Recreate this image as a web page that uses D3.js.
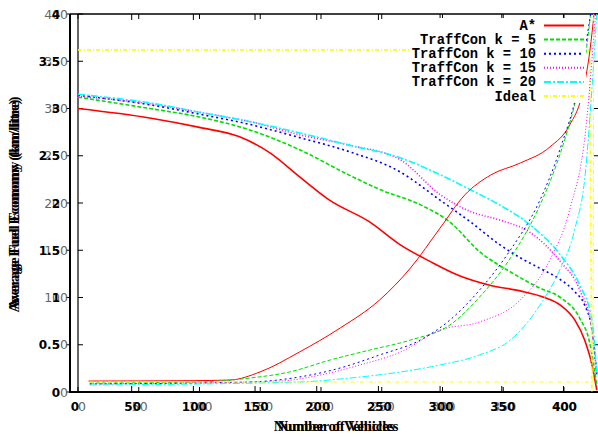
<!DOCTYPE html>
<html><head><meta charset="utf-8">
<script src="https://cdn.jsdelivr.net/npm/d3@7/dist/d3.min.js"></script>
<style>body{margin:0;background:#fff}svg{display:block}</style></head>
<body>
<script>
// ---------- data ----------
const xTicks = [0, 50, 100, 150, 200, 250, 300, 350, 400];
const yTicksEcon = [0, 50, 100, 150, 200, 250, 300, 350, 400];
const yTicksTime = [0, 0.5, 1, 1.5, 2, 2.5, 3, 3.5, 4];
const seriesNames = ["A*", "TraffCon k = 5", "TraffCon k = 10", "TraffCon k = 15", "TraffCon k = 20", "Ideal"];
const seriesColors = ["#ff0000", "#00e000", "#0000ff", "#ff00ff", "#00ffff", "#ffff00"];
const seriesDashes = [null, "4,2", "2,3", "1,2", "7,2,2,2", "4,2,1,2"];

// decreasing curves (grey 0-400 axis)
const econAStarVeh = [0, 59, 100, 133, 158, 183, 207, 240, 265, 290, 314, 339, 364, 384, 397, 409, 417, 423, 427];
const econAStarVal = [300, 290, 280, 270, 253, 227, 203, 180, 156, 138, 123, 113, 107, 100, 92, 76, 55, 29, 2];
const econK5Veh = [0, 59, 100, 142, 183, 224, 249, 282, 306, 331, 356, 380, 397, 413, 421, 427];
const econK5Val = [312, 300, 291, 277, 256, 229, 214, 198, 180, 148, 127, 110, 100, 78, 53, 7];
const econK10Veh = [0, 59, 100, 142, 183, 224, 265, 298, 323, 347, 364, 380, 397, 409, 417, 423, 427];
const econK10Val = [314, 304, 294, 283, 269, 254, 233, 203, 180, 156, 142, 131, 119, 106, 92, 66, 18];
const econK15Veh = [0, 59, 100, 142, 183, 224, 265, 298, 323, 347, 372, 397, 413, 423, 427];
const econK15Val = [313, 305, 296, 286, 272, 261, 246, 209, 191, 182, 169, 138, 108, 66, 18];
const econK20Veh = [0, 59, 100, 142, 183, 224, 265, 298, 323, 347, 372, 397, 413, 423, 427];
const econK20Val = [315, 306, 296, 286, 274, 261, 248, 230, 214, 198, 177, 145, 113, 76, 18];
const econIdealVeh = [0, 421, 423];
const econIdealVal = [362, 362, 0];

// increasing curves (bold 0-4 axis)
const timeAStarVeh = [15, 100, 130, 154, 186, 219, 251, 276, 300, 320, 341, 365, 389, 405, 415, 421.5, 424.8];
const timeAStarVal = [0.116, 0.12, 0.127, 0.212, 0.423, 0.677, 0.974, 1.312, 1.735, 2.085, 2.296, 2.423, 2.593, 2.825, 3.143, 3.619, 4.0];
const timeK5Veh = [16, 105, 146, 178, 211, 243, 276, 308, 332, 357, 381, 397, 409, 418, 422];
const timeK5Val = [0.095, 0.106, 0.148, 0.212, 0.339, 0.444, 0.55, 0.709, 1.005, 1.418, 1.979, 2.508, 3.037, 3.566, 4.0];
const timeK10Veh = [16, 146, 186, 219, 251, 284, 308, 332, 357, 381, 397, 413, 422];
const timeK10Val = [0.085, 0.106, 0.159, 0.254, 0.392, 0.55, 0.762, 1.079, 1.503, 2.032, 2.561, 3.3, 4.0];
const timeK15Veh = [16, 170, 203, 235, 268, 300, 332, 365, 389, 405, 418, 426];
const timeK15Val = [0.085, 0.116, 0.18, 0.286, 0.423, 0.656, 0.741, 0.974, 1.397, 1.926, 2.772, 4.0];
const timeK20Veh = [16, 186, 227, 268, 300, 332, 357, 381, 397, 409, 418, 423, 427];
const timeK20Val = [0.074, 0.106, 0.148, 0.212, 0.286, 0.392, 0.55, 0.921, 1.291, 1.714, 2.349, 3.196, 4.0];
const timeIdealVeh = [16, 424, 424.5];
const timeIdealVal = [0.106, 0.106, 4.0];

// ---------- layout ----------
const W = 598, H = 437;
const topY = 14, bottomY = 392, rightX = 598;
const leftT = 70, leftE = 78;

const svg = d3.select("body").append("svg").attr("width", W).attr("height", H);

const xT = d3.scaleLinear().domain([0, 428]).range([leftT, rightX]);
const xE = d3.scaleLinear().domain([0, 428]).range([leftE, rightX]);
const yE = d3.scaleLinear().domain([0, 400]).range([bottomY, topY]);
const yT = d3.scaleLinear().domain([0, 4]).range([bottomY, topY]);

svg.append("clipPath").attr("id", "clip").append("rect")
  .attr("x", leftT).attr("y", topY).attr("width", rightX - leftT).attr("height", bottomY - topY);

const zip = (a, b) => a.map((v, i) => [v, b[i]]);
const econ = [
  zip(econAStarVeh, econAStarVal), zip(econK5Veh, econK5Val), zip(econK10Veh, econK10Val),
  zip(econK15Veh, econK15Val), zip(econK20Veh, econK20Val), zip(econIdealVeh, econIdealVal)];
const time = [
  zip(timeAStarVeh, timeAStarVal), zip(timeK5Veh, timeK5Val), zip(timeK10Veh, timeK10Val),
  zip(timeK15Veh, timeK15Val), zip(timeK20Veh, timeK20Val), zip(timeIdealVeh, timeIdealVal)];

// ---------- frames ----------
svg.append("line").attr("x1", leftE).attr("x2", leftE).attr("y1", topY).attr("y2", bottomY)
  .attr("stroke", "#000").attr("stroke-width", 1.2);
svg.append("line").attr("x1", leftT).attr("x2", leftT).attr("y1", topY).attr("y2", bottomY + 1)
  .attr("stroke", "#000").attr("stroke-width", 2);
svg.append("line").attr("x1", leftT).attr("x2", rightX).attr("y1", topY).attr("y2", topY)
  .attr("stroke", "#000").attr("stroke-width", 1.4);
svg.append("line").attr("x1", leftT - 1).attr("x2", rightX).attr("y1", bottomY).attr("y2", bottomY)
  .attr("stroke", "#000").attr("stroke-width", 2);

// ticks
const tickG = svg.append("g").attr("stroke", "#000").attr("stroke-width", 1);
xTicks.forEach(t => {
  [[xT, 6], [xE, 5]].forEach(([s, len]) => {
    tickG.append("line").attr("x1", s(t)).attr("x2", s(t)).attr("y1", bottomY).attr("y2", bottomY - len);
    tickG.append("line").attr("x1", s(t)).attr("x2", s(t)).attr("y1", topY).attr("y2", topY + len);
  });
});
yTicksEcon.forEach(t => {
  tickG.append("line").attr("x1", leftE).attr("x2", leftE + 5).attr("y1", yE(t)).attr("y2", yE(t));
  tickG.append("line").attr("x1", rightX).attr("x2", rightX - 4).attr("y1", yE(t)).attr("y2", yE(t));
});
yTicksTime.forEach(t => {
  tickG.append("line").attr("x1", leftT - 4).attr("x2", leftT).attr("y1", yT(t)).attr("y2", yT(t));
});

// tick labels
const lab = svg.append("g").attr("font-family", "DejaVu Sans, sans-serif");
yTicksEcon.forEach(t => {
  lab.append("text").attr("x", 68).attr("y", yE(t) + 4.5).attr("text-anchor", "end")
    .attr("font-size", 12.5).attr("fill", "#666").text(t);
});
yTicksTime.forEach(t => {
  lab.append("text").attr("x", 60).attr("y", yT(t) + 4.5).attr("text-anchor", "end")
    .attr("font-size", 12).attr("fill", "#000").attr("font-weight", "bold").text(d3.format("~g")(t));
});
xTicks.forEach(t => {
  lab.append("text").attr("x", t === 0 ? xE(t) + 4 : xE(t) + 1).attr("y", 411).attr("text-anchor", "middle")
    .attr("font-size", 12.5).attr("fill", "#666").text(t);
  lab.append("text").attr("x", t === 0 ? xT(t) + 5 : xT(t) + 1).attr("y", 411).attr("text-anchor", "middle")
    .attr("font-size", 12).attr("fill", "#000").attr("font-weight", "bold").text(t);
});

// axis titles (two overlaid copies, one per plot)
const tit = svg.append("g").attr("font-family", "Liberation Serif, serif").attr("font-weight", "bold")
  .attr("fill", "#000");
[(leftT + rightX) / 2, (leftE + rightX) / 2].forEach(cx => {
  tit.append("text").attr("x", cx).attr("y", 431).attr("font-size", 14.5)
    .attr("text-anchor", "middle").text("Number of Vehicles");
});
[0, 3].forEach(dy => {
  tit.append("text").attr("transform", `translate(19,${(topY + bottomY) / 2 + dy}) rotate(-90)`)
    .attr("font-size", 15).attr("text-anchor", "middle").text("Average Fuel Economy (km/litre)");
});

// ---------- curves ----------
const plot = svg.append("g").attr("clip-path", "url(#clip)");
const lineE = d3.line().x(d => xE(d[0])).y(d => yE(d[1]));
const lineT = d3.line().x(d => xT(d[0])).y(d => yT(d[1]));
econ.forEach((s, i) => {
  plot.append("path").attr("d", lineE.curve(i === 5 ? d3.curveLinear : d3.curveMonotoneX)(s))
    .attr("fill", "none").attr("stroke", seriesColors[i]).attr("stroke-width", 1.6)
    .attr("stroke-dasharray", seriesDashes[i]);
});
time.forEach((s, i) => {
  plot.append("path").attr("d", lineT.curve(i === 5 ? d3.curveLinear : d3.curveMonotoneX)(s))
    .attr("fill", "none").attr("stroke", seriesColors[i]).attr("stroke-width", 1)
    .attr("stroke-dasharray", seriesDashes[i]);
});

// ---------- legend ----------
const leg = svg.append("g");
leg.append("rect").attr("x", 410).attr("y", 18).attr("width", 176).attr("height", 85).attr("fill", "#fff");
seriesNames.forEach((n, i) => {
  const yy = 25.5 + i * 14.1;
  leg.append("text").attr("x", 536).attr("y", yy + 4.5).attr("text-anchor", "end")
    .attr("font-family", "Liberation Mono, monospace").attr("font-weight", "bold")
    .attr("font-size", 13.8).attr("fill", "#000").text(n);
  leg.append("line").attr("x1", 544).attr("x2", 584).attr("y1", yy).attr("y2", yy)
    .attr("stroke", seriesColors[i]).attr("stroke-width", 2)
    .attr("stroke-dasharray", seriesDashes[i]);
});
</script>
</body></html>
